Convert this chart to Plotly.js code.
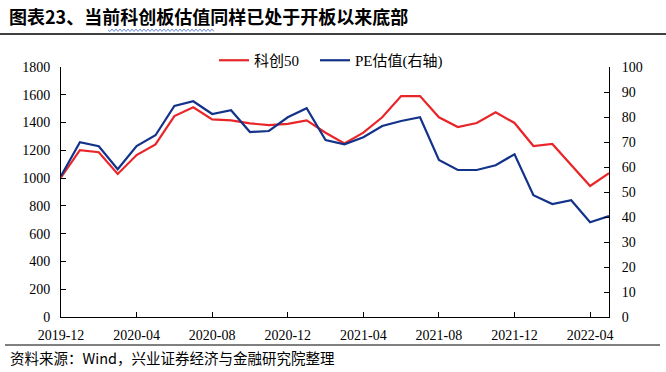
<!DOCTYPE html>
<html>
<head>
<meta charset="utf-8">
<script src="https://cdn.plot.ly/plotly-3.0.1.min.js"></script>
<style>
html,body{margin:0;padding:0;background:#fff;}
#chart{width:666px;height:372px;}
</style>
</head>
<body>
<div id="chart"></div>
<script>
const months = ["2019-12","2020-01","2020-02","2020-03","2020-04","2020-05","2020-06","2020-07","2020-08","2020-09","2020-10","2020-11","2020-12","2021-01","2021-02","2021-03","2021-04","2021-05","2021-06","2021-07","2021-08","2021-09","2021-10","2021-11","2021-12","2022-01","2022-02","2022-03","2022-04","2022-05"];
const kc50 = [1005,1202,1186,1030,1166,1243,1447,1510,1423,1416,1394,1382,1390,1416,1327,1250,1327,1438,1591,1591,1438,1368,1397,1474,1397,1231,1246,1092,943,1035];
const pe = [56.4,69.9,68.3,59.1,68.4,72.7,84.4,86.3,81.2,82.7,74.0,74.4,79.9,83.5,70.8,69.1,71.9,76.4,78.4,79.9,62.8,58.8,58.8,60.7,65.1,48.7,45.2,46.7,37.9,40.4];
const tickLabels = ["2019-12","2020-04","2020-08","2020-12","2021-04","2021-08","2021-12","2022-04"];
const seriesNames = ["科创50","PE估值(右轴)"];
const titleText = "图表23、当前科创板估值同样已处于开板以来底部";
const sourceText = "资料来源：Wind，兴业证券经济与金融研究院整理";

const W = 666, H = 372, L = 61, R = 609, T = 67, B = 317;
const px = x => (x - L) / (R - L);
const py = y => (B - y) / (B - T);

const serif = "Liberation Serif, Times New Roman, Noto Sans CJK SC, serif";
const cjk = "Noto Sans CJK SC, sans-serif";

// wavy underline (spell-check style decoration)
let wave = "M " + px(108) + "," + py(30);
for (let x = 108, k = 0; x < 214; x += 2, k++) {
  wave += " L " + px(x + 2) + "," + py(k % 2 === 0 ? 31.5 : 29);
}

const traces = [
  {x: months, y: kc50, name: seriesNames[0], type: "scatter", mode: "lines",
   line: {color: "#E8262A", width: 2.2}, yaxis: "y", legend: "legend"},
  {x: months, y: pe, name: seriesNames[1], type: "scatter", mode: "lines",
   line: {color: "#13338A", width: 2.2}, yaxis: "y2", legend: "legend2"}
];

const tf = {family: serif, size: 14, color: "#000"};
const lf = {family: serif, size: 15, color: "#000"};

const layout = {
  width: W, height: H,
  margin: {l: L, r: W - R, t: T, b: H - B},
  paper_bgcolor: "#fff", plot_bgcolor: "#fff",
  showlegend: true,
  legend: {orientation: "h", x: px(214), y: py(44), xanchor: "left", yanchor: "top",
           font: lf, itemwidth: 30, bgcolor: "rgba(0,0,0,0)"},
  legend2: {orientation: "h", x: px(315), y: py(44), xanchor: "left", yanchor: "top",
           font: lf, itemwidth: 30, bgcolor: "rgba(0,0,0,0)"},
  xaxis: {type: "category", range: [0, months.length - 1], tickvals: tickLabels, ticktext: tickLabels,
          showline: true, linecolor: "#000", linewidth: 1, ticks: "inside", ticklen: 5, tickcolor: "#000",
          showgrid: false, zeroline: false, tickfont: tf, ticklabelstandoff: 5},
  yaxis: {range: [0, 1800], dtick: 200, showline: true, linecolor: "#000", linewidth: 1,
          ticks: "inside", ticklen: 5, tickcolor: "#000", showgrid: false, zeroline: false,
          tickfont: tf, ticklabelstandoff: 7},
  yaxis2: {range: [0, 100], dtick: 10, overlaying: "y", side: "right", showline: true,
           linecolor: "#000", linewidth: 1, ticks: "inside", ticklen: 5, tickcolor: "#000",
           showgrid: false, zeroline: false, tickfont: tf, ticklabelstandoff: 9},
  annotations: [
    {text: "<b>" + titleText + "</b>", xref: "paper", yref: "paper", x: px(7), y: py(16),
     xanchor: "left", yanchor: "middle", showarrow: false, font: {family: cjk, size: 18, color: "#000"}},
    {text: sourceText, xref: "paper", yref: "paper", x: px(8), y: py(357),
     xanchor: "left", yanchor: "middle", showarrow: false, font: {family: cjk, size: 14.5, color: "#000"}}
  ],
  shapes: [
    {type: "line", xref: "paper", yref: "paper", x0: px(0), x1: px(666), y0: py(34), y1: py(34),
     line: {color: "#000", width: 1.5}},
    {type: "line", xref: "paper", yref: "paper", x0: px(5), x1: px(660), y0: py(345), y1: py(345),
     line: {color: "#000", width: 1}},
    {type: "path", xref: "paper", yref: "paper", path: wave, line: {color: "#6E8FD8", width: 1}}
  ]
};

Plotly.newPlot("chart", traces, layout, {staticPlot: true, displayModeBar: false});
</script>
</body>
</html>
